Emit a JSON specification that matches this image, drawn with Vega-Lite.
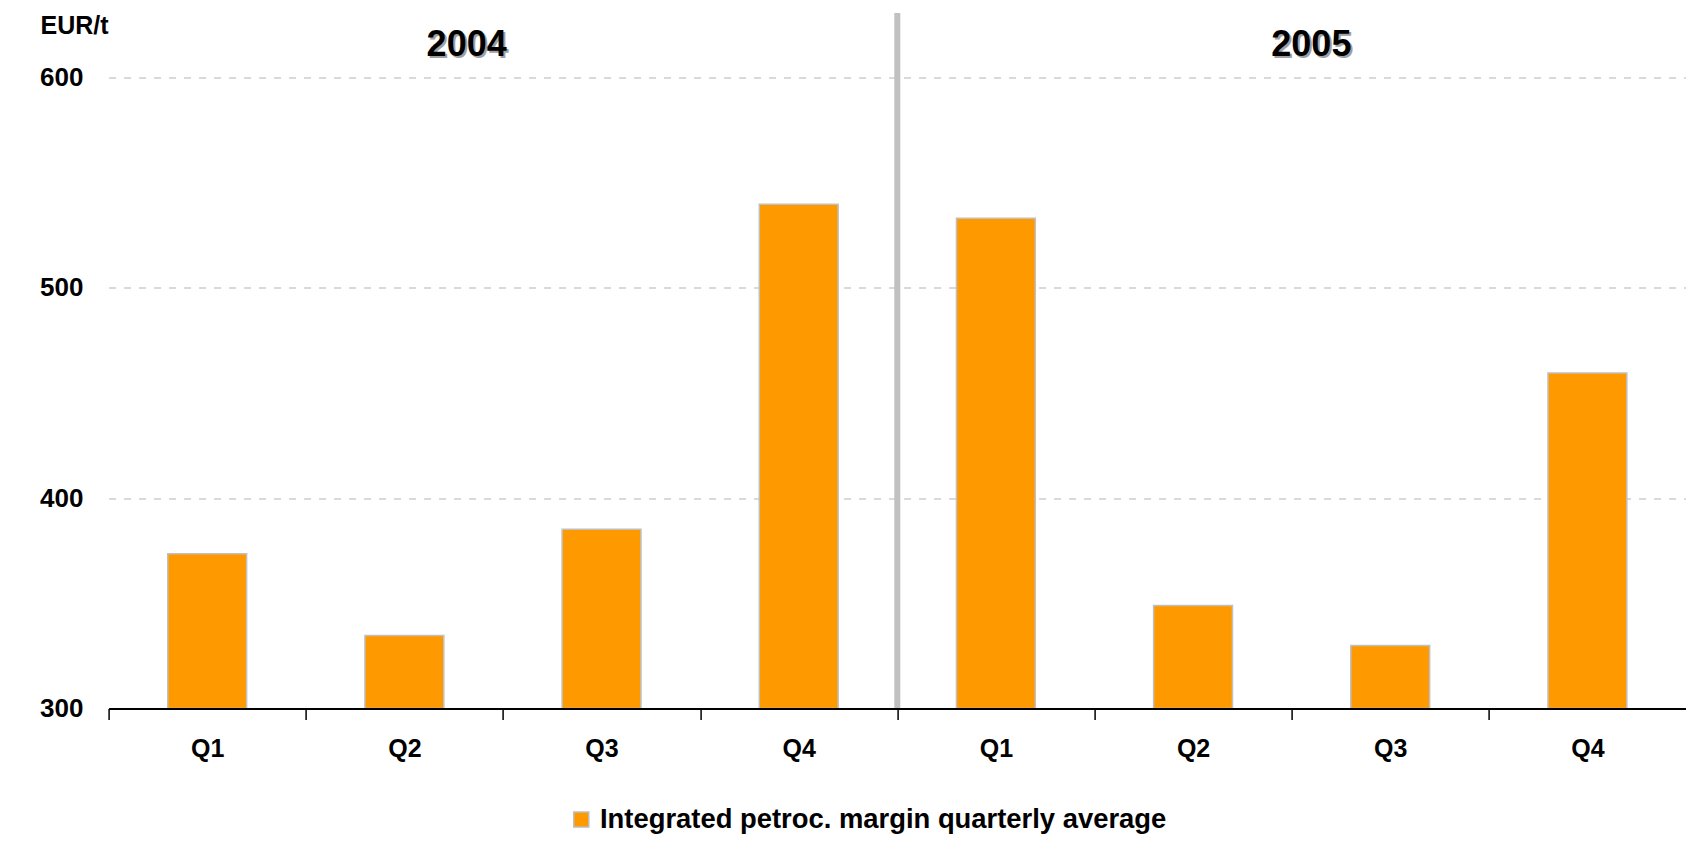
{
  "$schema": "https://vega.github.io/schema/vega-lite/v6.json",
  "autosize": {"type": "none"},
  "padding": {"left": 108.6, "top": 77.4, "right": 0, "bottom": 138.4},
  "width": 1577.4,
  "height": 631.2,
  "background": "#ffffff",
  "config": {
    "font": "Liberation Sans",
    "view": {"stroke": null}
  },
  "datasets": {
    "margins": [
      {"period": "2004 Q1", "year": "2004", "margin": 373.6, "series": "Integrated petroc. margin quarterly average"},
      {"period": "2004 Q2", "year": "2004", "margin": 334.8, "series": "Integrated petroc. margin quarterly average"},
      {"period": "2004 Q3", "year": "2004", "margin": 385.3, "series": "Integrated petroc. margin quarterly average"},
      {"period": "2004 Q4", "year": "2004", "margin": 539.7, "series": "Integrated petroc. margin quarterly average"},
      {"period": "2005 Q1", "year": "2005", "margin": 533.0, "series": "Integrated petroc. margin quarterly average"},
      {"period": "2005 Q2", "year": "2005", "margin": 349.0, "series": "Integrated petroc. margin quarterly average"},
      {"period": "2005 Q3", "year": "2005", "margin": 330.0, "series": "Integrated petroc. margin quarterly average"},
      {"period": "2005 Q4", "year": "2005", "margin": 459.5, "series": "Integrated petroc. margin quarterly average"}
    ],
    "years": [
      {"year": "2004", "period": "2004 Q2"},
      {"year": "2005", "period": "2005 Q2"}
    ],
    "divider": [
      {"period": "2004 Q4"}
    ]
  },
  "layer": [
    {
      "data": {"name": "margins"},
      "mark": {"type": "bar", "color": "#FF9900", "stroke": "#c0c0c0", "strokeWidth": 1.5},
      "encoding": {
        "x": {
          "field": "period", "type": "nominal",
          "scale": {"domain": ["2004 Q1", "2004 Q2", "2004 Q3", "2004 Q4", "2005 Q1", "2005 Q2", "2005 Q3", "2005 Q4"], "paddingInner": 0.6, "paddingOuter": 0.3},
          "axis": {
            "title": null,
            "labelExpr": "datum.value ? substring(datum.value, 5) : ''",
            "labelAngle": 0,
            "labelFont": "Liberation Sans",
            "labelFontWeight": "bold",
            "labelFontSize": 25,
            "labelColor": "#000000",
            "labelBaseline": "middle",
            "labelPadding": 29,
            "tickOffset": -98.6,
            "labelOffset": 98.6,
            "domainColor": "#000000",
            "domainWidth": 2,
            "tickColor": "#000000",
            "tickWidth": 1.5,
            "tickSize": 11,
            "grid": false,
            "zindex": 1
          }
        },
        "y": {
          "field": "margin", "type": "quantitative",
          "scale": {"domain": [300, 600], "zero": false, "nice": false},
          "axis": {
            "values": [300, 400, 500, 600],
            "title": "EUR/t",
            "titleAngle": 0,
            "titleAlign": "left",
            "titleBaseline": "middle",
            "titleX": -68.6,
            "titleY": -52.4,
            "titleFont": "Liberation Sans",
            "titleFontWeight": "bold",
            "titleFontSize": 25,
            "titleColor": "#000000",
            "labelFont": "Liberation Sans",
            "labelFontWeight": "bold",
            "labelFontSize": 26,
            "labelColor": "#000000",
            "labelPadding": 25.6,
            "ticks": false,
            "domain": false,
            "grid": true,
            "gridColor": "#d9d9d9",
            "gridDash": [7, 8],
            "gridWidth": 2
          }
        },
        "y2": {"datum": 300},
        "color": {
          "field": "series", "type": "nominal",
          "scale": {"range": ["#FF9900"]},
          "legend": {
            "title": null,
            "orient": "none",
            "legendX": 459,
            "legendY": 728.5,
            "symbolType": "square",
            "symbolSize": 225,
            "symbolFillColor": "#FF9900",
            "symbolStrokeColor": "#bdbdbd",
            "symbolStrokeWidth": 1.5,
            "labelFont": "Liberation Sans",
            "labelFontWeight": "bold",
            "labelFontSize": 27.4,
            "labelColor": "#000000",
            "labelOffset": 5,
            "labelLimit": 1000
          }
        }
      }
    },
    {
      "data": {"name": "divider"},
      "mark": {"type": "rule", "color": "#c0c0c0", "strokeWidth": 6},
      "encoding": {
        "x": {"field": "period", "type": "nominal", "bandPosition": 1.75},
        "y": {"datum": 300, "type": "quantitative"},
        "y2": {"datum": 630.6}
      }
    },
    {
      "data": {"name": "years"},
      "transform": [{"filter": "datum.year == '2004'"}],
      "layer": [
        {
          "mark": {"type": "text", "font": "Liberation Sans", "fontWeight": "bold", "fontSize": 36, "color": "#a0a0a0", "dx": 2, "dy": 2, "baseline": "middle", "align": "center"},
          "encoding": {
            "x": {"field": "period", "type": "nominal", "bandPosition": 1.29},
            "y": {"datum": 615.6, "type": "quantitative"},
            "text": {"field": "year"}
          }
        },
        {
          "mark": {"type": "text", "font": "Liberation Sans", "fontWeight": "bold", "fontSize": 36, "color": "#000000", "baseline": "middle", "align": "center"},
          "encoding": {
            "x": {"field": "period", "type": "nominal", "bandPosition": 1.29},
            "y": {"datum": 615.6, "type": "quantitative"},
            "text": {"field": "year"}
          }
        }
      ]
    },
    {
      "data": {"name": "years"},
      "transform": [{"filter": "datum.year == '2005'"}],
      "layer": [
        {
          "mark": {"type": "text", "font": "Liberation Sans", "fontWeight": "bold", "fontSize": 36, "color": "#a0a0a0", "dx": 2, "dy": 2, "baseline": "middle", "align": "center"},
          "encoding": {
            "x": {"field": "period", "type": "nominal", "bandPosition": 2.0},
            "y": {"datum": 615.6, "type": "quantitative"},
            "text": {"field": "year"}
          }
        },
        {
          "mark": {"type": "text", "font": "Liberation Sans", "fontWeight": "bold", "fontSize": 36, "color": "#000000", "baseline": "middle", "align": "center"},
          "encoding": {
            "x": {"field": "period", "type": "nominal", "bandPosition": 2.0},
            "y": {"datum": 615.6, "type": "quantitative"},
            "text": {"field": "year"}
          }
        }
      ]
    }
  ]
}
